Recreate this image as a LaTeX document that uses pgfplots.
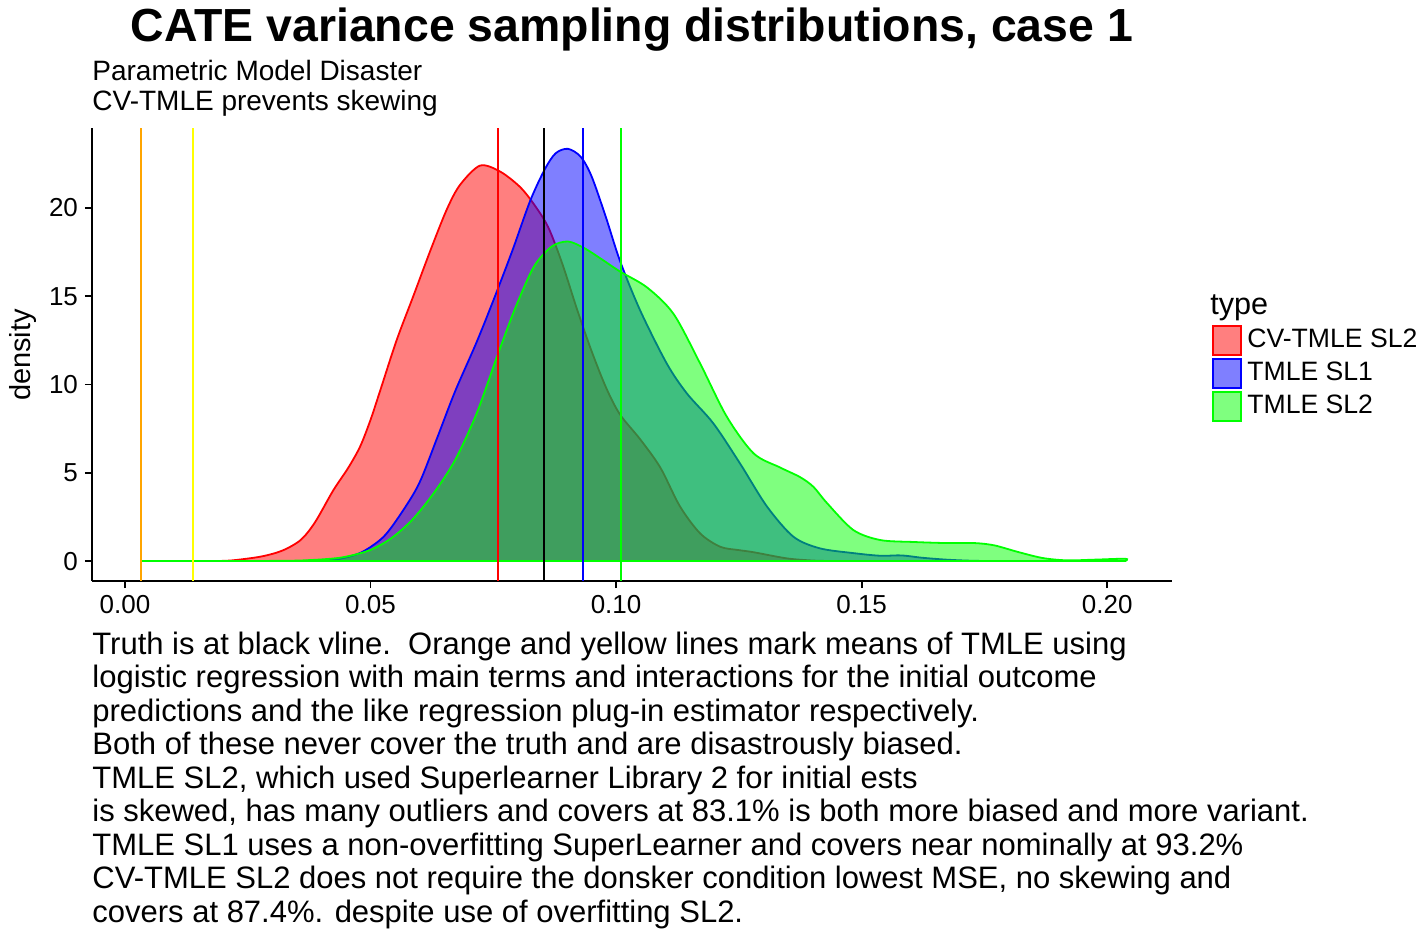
\documentclass[border=0pt]{standalone}
\usepackage{fontspec}
\setmainfont{Liberation Sans}
\usepackage{pgfplots}
\pgfplotsset{compat=1.18}
\definecolor{rgreen}{RGB}{0,255,0}
\definecolor{rorange}{RGB}{255,165,0}
\definecolor{ryellow}{RGB}{255,255,0}
\definecolor{rred}{RGB}{255,0,0}
\definecolor{rblue}{RGB}{0,0,255}
\begin{document}
\begin{tikzpicture}
\path[use as bounding box] (-46pt,-173.5pt) rectangle (664.5pt,290.5pt);
\begin{axis}[
  at={(0,0)}, anchor=south west,
  scale only axis, width=540pt, height=226.5pt,
  xmin=-0.00672, xmax=0.2132, ymin=-1.13, ymax=24.53,
  axis lines*=left,
  axis line style={-, line width=0.9pt, black},
  x axis line style={-}, y axis line style={-},
  tick align=outside, major tick length=3.5pt,
  tick style={line width=0.9pt, black},
  xtick={0,0.05,0.1,0.15,0.2}, ytick={0,5,10,15,20},
  scaled x ticks=false,
  xticklabel style={/pgf/number format/.cd, fixed, fixed zerofill, precision=2},
  /pgf/number format/assume math mode=true,
  tick label style={font=\fontsize{13}{13}\selectfont, black},
  legend style={draw=none, fill=none, at={(1.037,0.567)}, anchor=north west,
    inner sep=0pt, row sep=1pt, column sep=0.5pt,
    font=\fontsize{13.3}{14}\selectfont},
  legend cell align=left,
  legend image code/.code={\draw[#1, line width=1pt] (0pt,-7.25pt) rectangle (14pt,7.25pt);},
]
\addplot[smooth, draw=rred, line width=0.9pt, fill=rred, fill opacity=0.5] coordinates {
(0.018,0) (0.0219,0.04) (0.0278,0.26) (0.0321,0.6) (0.0358,1.2) (0.0387,2.2) (0.0424,4.0)
(0.0455,5.3) (0.0479,6.5) (0.05,8.0) (0.0519,9.6) (0.0553,12.5) (0.0587,15.0)
(0.0622,17.6) (0.0655,19.9) (0.0682,21.3) (0.0723,22.4) (0.0764,22.06) (0.0804,21.2)
(0.0833,20.2) (0.0862,18.9) (0.0891,16.8) (0.092,14.3) (0.095,11.9) (0.098,9.8)
(0.1008,8.3) (0.1049,6.9) (0.109,5.3) (0.113,3.1) (0.1171,1.57) (0.1212,0.81)
(0.125,0.62) (0.128,0.5) (0.1348,0.15) (0.14,0.03) (0.144,0)
} \closedcycle;
\addlegendentry{CV-TMLE SL2}
\addplot[smooth, draw=rblue, line width=0.9pt, fill=rblue, fill opacity=0.5] coordinates {
(0.035,0) (0.0394,0.03) (0.0438,0.13) (0.0482,0.5) (0.0526,1.36) (0.0562,2.69) (0.0599,4.4)
(0.0636,7.0) (0.0672,9.6) (0.0716,12.4) (0.0752,14.9) (0.0789,17.6) (0.0825,20.4)
(0.0855,22.2) (0.0877,23.1) (0.0902,23.35) (0.0928,22.9) (0.095,21.8) (0.0979,19.5)
(0.1008,17.0) (0.1049,14.2) (0.1103,11.2) (0.1144,9.5) (0.1198,7.8) (0.1253,5.5)
(0.1307,3.1) (0.1361,1.38) (0.1415,0.72) (0.1483,0.45) (0.1538,0.3) (0.1581,0.32)
(0.1622,0.19) (0.1672,0.08) (0.1721,0.02) (0.176,0)
} \closedcycle;
\addlegendentry{TMLE SL1}
\addplot[smooth, draw=rgreen, line width=0.9pt, fill=rgreen, fill opacity=0.5] coordinates {
(0.0034,0) (0.02,0) (0.03,0.01) (0.0365,0.04) (0.0438,0.19) (0.0497,0.6) (0.0541,1.27)
(0.0584,2.31) (0.0628,3.82) (0.0672,5.71) (0.0716,8.36) (0.076,11.77) (0.0796,14.42)
(0.0833,16.69) (0.0869,17.82) (0.0902,18.1) (0.0935,17.73) (0.0972,17.07) (0.1008,16.4)
(0.1063,15.5) (0.1117,14.0) (0.1171,11.2) (0.1225,8.2) (0.128,6.1) (0.1334,5.3)
(0.1375,4.75) (0.1402,4.2) (0.1429,3.3) (0.1483,1.76) (0.1538,1.19) (0.1606,1.08)
(0.1672,1.02) (0.1729,1.02) (0.177,0.89) (0.1819,0.51) (0.1869,0.17) (0.1918,0.04)
(0.1975,0.08) (0.2037,0.13) (0.2037,0)
} \closedcycle;
\addlegendentry{TMLE SL2}
\addplot[rorange, line width=1pt, forget plot] coordinates {(0.00334,-1.13) (0.00334,24.53)};
\addplot[ryellow, line width=1pt, forget plot] coordinates {(0.0139,-1.13) (0.0139,24.53)};
\addplot[rred, line width=1pt, forget plot] coordinates {(0.0760,-1.13) (0.0760,24.53)};
\addplot[black, line width=1pt, forget plot] coordinates {(0.0853,-1.13) (0.0853,24.53)};
\addplot[rblue, line width=1pt, forget plot] coordinates {(0.0933,-1.13) (0.0933,24.53)};
\addplot[rgreen, line width=1pt, forget plot] coordinates {(0.1011,-1.13) (0.1011,24.53)};
\end{axis}
\node[anchor=base, font=\fontsize{23.2}{24}\selectfont\bfseries, inner sep=0pt] at (270pt,269.5pt) {CATE variance sampling distributions, case 1};
\begin{scope}[every node/.style={anchor=base west, inner sep=0pt, font=\fontsize{14}{15}\selectfont}]
\node at (0pt,250.5pt) {Parametric Model Disaster};
\node at (0pt,235.5pt) {CV-TMLE prevents skewing};
\end{scope}
\node[anchor=base, rotate=90, inner sep=0pt, font=\fontsize{14.5}{15}\selectfont] at (-30.5pt,113pt) {density};
\node[anchor=base west, inner sep=0pt, font=\fontsize{15.3}{16}\selectfont] at (559pt,133.5pt) {type};
\begin{scope}[every node/.style={anchor=base west, inner sep=0pt, font=\fontsize{15.5}{16}\selectfont}]
\node at (0pt,-36.5pt) {Truth is at black vline.\ \ Orange and yellow lines mark means of TMLE using};
\node at (0pt,-53.25pt) {logistic regression with main terms and interactions for the initial outcome};
\node at (0pt,-70pt) {predictions and the like regression plug-in estimator respectively.};
\node at (0pt,-86.75pt) {Both of these never cover the truth and are disastrously biased.};
\node at (0pt,-103.5pt) {TMLE SL2, which used Superlearner Library 2 for initial ests};
\node at (0pt,-120.25pt) {is skewed, has many outliers and covers at 83.1\% is both more biased and more variant.};
\node at (0pt,-137pt) {TMLE SL1 uses a non-overfitting SuperLearner and covers near nominally at 93.2\%};
\node at (0pt,-153.75pt) {CV-TMLE SL2 does not require the donsker condition lowest MSE, no skewing and};
\node at (0pt,-170.5pt) {covers at 87.4\%. despite use of overfitting SL2.};
\end{scope}
\end{tikzpicture}
\end{document}
